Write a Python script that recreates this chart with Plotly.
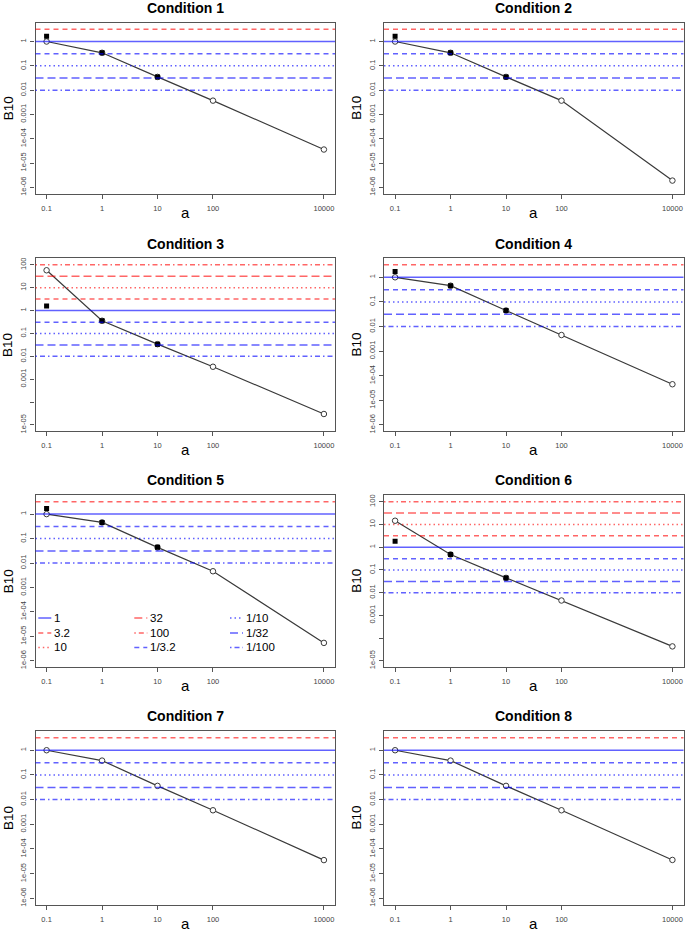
import math
import plotly.graph_objects as go
from plotly.subplots import make_subplots

# ---------------- data ----------------
a_values = [0.1, 1, 10, 100, 10000]
x_tick_labels = ["0.1", "1", "10", "100", "10000"]

titles = ["Condition 1", "Condition 2", "Condition 3", "Condition 4",
          "Condition 5", "Condition 6", "Condition 7", "Condition 8"]

cond1_open = [1.0, 0.344, 0.035, 0.0037, 3.6e-5]
cond2_open = [1.0, 0.344, 0.035, 0.0037, 1.9e-6]
cond3_open = [58.0, 0.36, 0.034, 0.0035, 3.0e-5]
cond4_open = [1.0, 0.456, 0.0447, 0.0045, 4.5e-5]
cond5_open = [1.0, 0.457, 0.0436, 0.0046, 5.4e-6]
cond6_open = [14.6, 0.478, 0.0446, 0.0045, 4.3e-5]
cond7_open = [1.0, 0.38, 0.036, 0.0037, 3.55e-5]
cond8_open = [1.0, 0.38, 0.036, 0.0037, 3.6e-5]

a_filled = [0.1, 1, 10]
cond1_filled = [1.65, 0.344, 0.035]
cond2_filled = [1.65, 0.344, 0.035]
cond3_filled = [1.58, 0.36, 0.034]
cond4_filled = [1.7, 0.456, 0.0447]
cond5_filled = [1.7, 0.457, 0.0436]
cond6_filled = [1.81, 0.478, 0.0446]
cond7_filled = []
cond8_filled = []

ref_values = [1, 3.2, 10, 32, 100, 1 / 3.2, 1 / 10, 1 / 32, 1 / 100]
ref_labels = ["1", "3.2", "10", "32", "100", "1/3.2", "1/10", "1/32", "1/100"]

y_ticks_std = [1e-6, 1e-5, 1e-4, 1e-3, 1e-2, 1e-1, 1]
y_ticklabels_std = ["1e-06", "1e-05", "1e-04", "0.001", "0.01", "0.1", "1"]
y_ticks_wide = [1e-5, 1e-4, 1e-3, 1e-2, 1e-1, 1, 10, 100]
y_ticklabels_wide = ["1e-05", "", "0.001", "0.01", "0.1", "1", "10", "100"]

open_series = [cond1_open, cond2_open, cond3_open, cond4_open,
               cond5_open, cond6_open, cond7_open, cond8_open]
filled_series = [cond1_filled, cond2_filled, cond3_filled, cond4_filled,
                 cond5_filled, cond6_filled, cond7_filled, cond8_filled]
wide_panels = [False, False, True, False, False, True, False, False]

# ---------------- styles / layout ----------------
W, H = 685, 931
FONT = "Liberation Sans, Arial, Helvetica, sans-serif"
RED = "rgba(255,0,0,0.6)"
BLUE = "rgba(0,0,255,0.62)"
DASHED = "5px,4px"
DOTTED = "1.5px,3px"
LONGDASH = "8px,4px"
DOTDASH = "1.5px,3px,5px,3px"
ref_styles = [(BLUE, "solid"), (RED, DASHED), (RED, DOTTED), (RED, LONGDASH),
              (RED, DOTDASH), (BLUE, DASHED), (BLUE, DOTTED), (BLUE, LONGDASH),
              (BLUE, DOTDASH)]

col_px = [(35.5, 335.0), (384.0, 683.5)]
row_px = [(22.0, 193.3), (258.3, 431.7), (496.0, 668.3), (732.7, 906.7)]
x_range = [-1.2, 4.2]
y_range_std = [-6.26, 0.765]
y_range_wide = [-5.28, 2.28]


def px_x(x):
    return x / W


def px_y(y):
    return 1 - y / H


fig = make_subplots(rows=4, cols=2)

for i in range(8):
    r, c = i // 2, i % 2
    idx = i + 1
    x0, x1 = col_px[c]
    y0, y1 = row_px[r]
    wide = wide_panels[i]
    yr = y_range_wide if wide else y_range_std

    fig.add_trace(go.Scatter(
        x=a_values, y=open_series[i], mode="lines+markers",
        line=dict(color="#3a3a3a", width=1.2),
        marker=dict(symbol="circle", size=5.5, color="white",
                    line=dict(color="#3a3a3a", width=1)),
        showlegend=False, hoverinfo="x+y"), row=r + 1, col=c + 1)
    if filled_series[i]:
        fig.add_trace(go.Scatter(
            x=a_filled, y=filled_series[i], mode="markers",
            marker=dict(symbol="square", size=5, color="black"),
            showlegend=False, hoverinfo="x+y"), row=r + 1, col=c + 1)

    for v, (colr, dash) in zip(ref_values, ref_styles):
        lv = math.log10(v)
        if yr[0] < lv < yr[1]:
            fig.add_hline(y=v, line=dict(color=colr, width=1.5, dash=dash),
                          row=r + 1, col=c + 1)

    xa = "xaxis" if idx == 1 else f"xaxis{idx}"
    ya = "yaxis" if idx == 1 else f"yaxis{idx}"
    axis_common = dict(showline=True, mirror=True, linecolor="#555555",
                       linewidth=1.3, ticks="outside", ticklen=4,
                       tickcolor="#555555", tickwidth=1, showgrid=False,
                       zeroline=False,
                       tickfont=dict(family=FONT, size=7.5, color="#444444"))
    fig.layout[xa].update(type="log", range=x_range,
                          domain=[px_x(x0), px_x(x1)],
                          tickvals=a_values, ticktext=x_tick_labels,
                          ticklabelstandoff=3, **axis_common)
    fig.layout[ya].update(type="log", range=yr,
                          domain=[px_y(y1), px_y(y0)],
                          tickvals=y_ticks_wide if wide else y_ticks_std,
                          ticktext=y_ticklabels_wide if wide else y_ticklabels_std,
                          tickangle=-90, ticklabelstandoff=1, **axis_common)

    cx = (x0 + x1) / 2
    fig.add_annotation(text=f"<b>{titles[i]}</b>", x=px_x(cx), y=px_y(y0 - 15),
                       xref="paper", yref="paper", showarrow=False,
                       xanchor="center", yanchor="middle",
                       font=dict(family=FONT, size=14, color="black"))
    fig.add_annotation(text="a", x=px_x(cx), y=px_y(y1 + 18.5),
                       xref="paper", yref="paper", showarrow=False,
                       xanchor="center", yanchor="middle",
                       font=dict(family=FONT, size=15, color="black"))
    fig.add_annotation(text="B10", x=px_x(x0 - 27.5), y=px_y((y0 + y1) / 2),
                       xref="paper", yref="paper", showarrow=False,
                       xanchor="center", yanchor="middle", textangle=-90,
                       font=dict(family=FONT, size=13.5, color="black"))

# legend in Condition 5 panel (3 columns x 3 rows, no box)
leg_col_x = [38.3, 134.3, 230.0]
leg_row_y = [619.0, 634.0, 648.5]
for k, (lab, (colr, dash)) in enumerate(zip(ref_labels, ref_styles)):
    lx = leg_col_x[k // 3]
    ly = leg_row_y[k % 3]
    fig.add_shape(type="line", xref="paper", yref="paper",
                  x0=px_x(lx), x1=px_x(lx + 13), y0=px_y(ly), y1=px_y(ly),
                  line=dict(color=colr, width=1.5, dash=dash))
    fig.add_annotation(text=lab, x=px_x(lx + 13.5), y=px_y(ly), xref="paper",
                       yref="paper", xanchor="left", yanchor="middle",
                       showarrow=False,
                       font=dict(family=FONT, size=11.5, color="black"))

fig.update_layout(width=W, height=H, margin=dict(l=0, r=0, t=0, b=0),
                  plot_bgcolor="white", paper_bgcolor="white",
                  showlegend=False, font=dict(family=FONT))

fig.write_html("out.html", config={"displayModeBar": False},
               post_script="document.body.style.margin='0';"
                           "document.body.style.overflow='hidden';")
